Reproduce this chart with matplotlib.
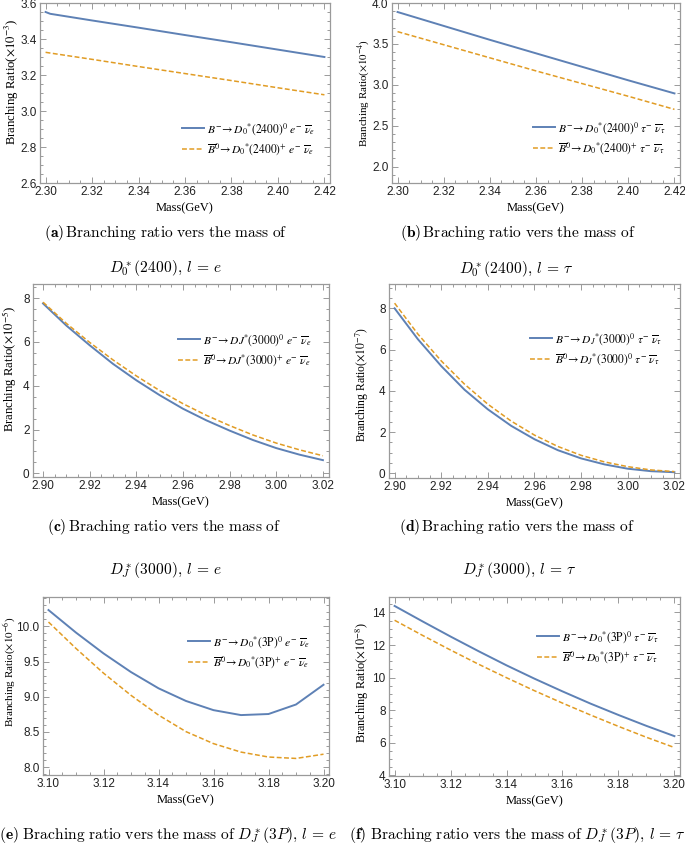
import matplotlib
matplotlib.use("Agg")
import matplotlib.pyplot as plt
from matplotlib.ticker import MultipleLocator, FormatStrFormatter
from matplotlib.font_manager import FontProperties

# ---- data ----
MASS_A = [2.300, 2.302, 2.32, 2.34, 2.36, 2.38, 2.40, 2.42]
BR_A_CHARGED = [3.55, 3.54, 3.503, 3.463, 3.422, 3.382, 3.341, 3.30]
BR_A_NEUTRAL = [3.326, 3.322, 3.287, 3.247, 3.208, 3.169, 3.129, 3.09]

MASS_B = [2.30, 2.32, 2.34, 2.36, 2.38, 2.40, 2.42]
BR_B_CHARGED = [3.89, 3.72, 3.55, 3.385, 3.22, 3.055, 2.895]
BR_B_NEUTRAL = [3.65, 3.49, 3.33, 3.17, 3.015, 2.86, 2.70]

MASS_C = [2.90, 2.91, 2.92, 2.93, 2.94, 2.95, 2.96, 2.97, 2.98, 2.99, 3.00, 3.01, 3.02]
BR_C_CHARGED = [7.76, 6.75, 5.85, 5.00, 4.25, 3.57, 2.95, 2.42, 1.95, 1.52, 1.15, 0.85, 0.60]
BR_C_NEUTRAL = [7.82, 6.85, 5.98, 5.18, 4.45, 3.78, 3.18, 2.65, 2.18, 1.75, 1.38, 1.07, 0.80]

MASS_D = MASS_C
BR_D_CHARGED = [8.00, 6.50, 5.20, 4.05, 3.10, 2.30, 1.65, 1.12, 0.72, 0.43, 0.22, 0.10, 0.05]
BR_D_NEUTRAL = [8.25, 6.75, 5.45, 4.32, 3.35, 2.53, 1.85, 1.30, 0.87, 0.55, 0.32, 0.16, 0.08]

MASS_E = [3.10, 3.11, 3.12, 3.13, 3.14, 3.15, 3.16, 3.17, 3.18, 3.19, 3.20]
BR_E_CHARGED = [10.23, 9.91, 9.615, 9.35, 9.12, 8.94, 8.81, 8.74, 8.755, 8.89, 9.17]
BR_E_NEUTRAL = [10.06, 9.685, 9.335, 9.02, 8.74, 8.505, 8.335, 8.215, 8.145, 8.125, 8.185]

MASS_F = MASS_E
BR_F_CHARGED = [14.40, 13.45, 12.52, 11.62, 10.75, 9.93, 9.15, 8.40, 7.70, 7.03, 6.40]
BR_F_NEUTRAL = [13.52, 12.59, 11.69, 10.82, 9.99, 9.19, 8.43, 7.70, 7.00, 6.33, 5.70]

LEG_A = [r"$B^{-}\!\rightarrow D_0{}^{*}(2400)^0\ e^{-}\ \overline{\nu}_e$",
         r"$\overline{B}^0\!\rightarrow D_0{}^{*}(2400)^{+}\ e^{-}\ \overline{\nu}_e$"]
LEG_B = [r"$B^{-}\!\rightarrow D_0{}^{*}(2400)^0\ \tau^{-}\ \overline{\nu}_\tau$",
         r"$\overline{B}^0\!\rightarrow D_0{}^{*}(2400)^{+}\ \tau^{-}\ \overline{\nu}_\tau$"]
LEG_C = [r"$B^{-}\!\rightarrow DJ{}^{*}(3000)^0\ e^{-}\ \overline{\nu}_e$",
         r"$\overline{B}^0\!\rightarrow DJ{}^{*}(3000)^{+}\ e^{-}\ \overline{\nu}_e$"]
LEG_D = [r"$B^{-}\!\rightarrow D_J{}^{*}(3000)^0\ \tau^{-}\ \overline{\nu}_\tau$",
         r"$\overline{B}^0\!\rightarrow D_J{}^{*}(3000)^0\ \tau^{-}\ \overline{\nu}_\tau$"]
LEG_E = [r"$B^{-}\!\rightarrow D_0{}^{*}(3\mathrm{P})^0\ e^{-}\ \overline{\nu}_e$",
         r"$\overline{B}^0\!\rightarrow D_0{}^{*}(3\mathrm{P})^{+}\ e^{-}\ \overline{\nu}_e$"]
LEG_F = [r"$B^{-}\!\rightarrow D_0{}^{*}(3\mathrm{P})^0\ \tau^{-}\ \overline{\nu}_\tau$",
         r"$\overline{B}^0\!\rightarrow D_0{}^{*}(3\mathrm{P})^{+}\ \tau^{-}\ \overline{\nu}_\tau$"]

BLUE = "#5e81b5"
ORANGE = "#e19c24"
FRAME = "#9a9a9a"

W, H = 685, 844
fig = plt.figure(figsize=(W / 100, H / 100), dpi=100)


def px_axes(left, top, right, bottom):
    return fig.add_axes([left / W, 1 - bottom / H, (right - left) / W, (bottom - top) / H])


def style(ax, xlim, ylim, xmaj, ymaj, ymin, yfmt, exp, ylab_size, ylab_xy):
    ax.set_xlim(*xlim)
    ax.set_ylim(*ylim)
    ax.xaxis.set_major_locator(MultipleLocator(xmaj))
    ax.xaxis.set_minor_locator(MultipleLocator(0.005))
    ax.yaxis.set_major_locator(MultipleLocator(ymaj))
    ax.yaxis.set_minor_locator(MultipleLocator(ymin))
    ax.xaxis.set_major_formatter(FormatStrFormatter("%.2f"))
    ax.yaxis.set_major_formatter(FormatStrFormatter(yfmt))
    ax.tick_params(which="both", direction="in", top=True, right=True,
                   color=FRAME, width=0.7, labelcolor="#222222", labelsize=8.5, pad=2.5)
    ax.tick_params(which="major", length=4)
    ax.tick_params(which="minor", length=2)
    for sp in ax.spines.values():
        sp.set_color(FRAME)
        sp.set_linewidth(0.9)
    for lbl in ax.get_xticklabels() + ax.get_yticklabels():
        lbl.set_fontfamily("Liberation Sans")
    ax.set_xlabel("Mass(GeV)", family="Liberation Serif", fontsize=9, labelpad=3)
    ax.set_ylabel(r"Branching Ratio($\times 10^{-%d}$)" % exp, family="Liberation Serif",
                  fontsize=ylab_size, math_fontfamily="stix")
    ax.yaxis.set_label_coords(*ylab_xy)


def draw(ax, mass, charged, neutral, labels, anchor):
    ax.plot(mass, charged, color=BLUE, lw=1.4)
    ax.plot(mass, neutral, color=ORANGE, lw=1.1, ls=(0, (3.2, 1.6)))
    ax.legend(labels, loc="center left", bbox_to_anchor=(anchor[0] / W, 1 - anchor[1] / H),
              bbox_transform=fig.transFigure, frameon=False, borderpad=0, borderaxespad=0,
              handlelength=1.9, handletextpad=0.3, labelspacing=0.4,
              prop=FontProperties(family="Liberation Serif", size=8.3, math_fontfamily="stix"))


def caption(x, y, text, size=11.2):
    fig.text(x / W, 1 - y / H, text, ha="center", va="center", fontsize=size,
             math_fontfamily="cm")


# (a)
ax = px_axes(40, 3, 330, 183)
draw(ax, MASS_A, BR_A_CHARGED, BR_A_NEUTRAL, LEG_A, (182, 139))
style(ax, (2.2976, 2.4224), (2.6, 3.6), 0.02, 0.2, 0.05, "%.1f", 3, 9.2, (-0.066, 0.56))

# (b)
ax = px_axes(392, 3, 680, 183)
draw(ax, MASS_B, BR_B_CHARGED, BR_B_NEUTRAL, LEG_B, (533, 138))
style(ax, (2.2976, 2.4224), (1.8, 4.0), 0.02, 0.5, 0.1, "%.1f", 4, 7.8, (-0.07, 0.5))

# (c)
ax = px_axes(33, 284, 329, 477)
draw(ax, MASS_C, BR_C_CHARGED, BR_C_NEUTRAL, LEG_C, (178, 350))
style(ax, (2.8957, 3.0226), (-0.17, 8.65), 0.02, 2, 0.5, "%d", 5, 9.2, (-0.047, 0.56))

# (d)
ax = px_axes(389, 284, 680, 478)
draw(ax, MASS_D, BR_D_CHARGED, BR_D_NEUTRAL, LEG_D, (530, 349))
style(ax, (2.8976, 3.0224), (-0.23, 9.18), 0.02, 2, 0.5, "%d", 7, 8.4, (-0.062, 0.48))

# (e)
ax = px_axes(43, 597, 329, 775)
draw(ax, MASS_E, BR_E_CHARGED, BR_E_NEUTRAL, LEG_E, (188, 652))
style(ax, (3.098, 3.202), (7.89, 10.415), 0.02, 0.5, 0.1, "%.1f", 6, 8.0, (-0.086, 0.58))

# (f)
ax = px_axes(389, 597, 680, 776)
draw(ax, MASS_F, BR_F_CHARGED, BR_F_NEUTRAL, LEG_F, (537, 647))
style(ax, (3.098, 3.202), (3.95, 14.95), 0.02, 2, 0.5, "%d", 8, 8.8, (-0.062, 0.52))

# captions
caption(166, 233, r"$\mathbf{(a)}\,\mathrm{Branching\ ratio\ vers\ the\ mass\ of}$")
caption(165, 268, r"$D_0^*(2400),\, l\, =\, e$")
caption(518, 233, r"$\mathbf{(b)}\,\mathrm{Braching\ ratio\ vers\ the\ mass\ of}$")
caption(516, 269, r"$D_0^*(2400),\, l\, =\, \tau$")
caption(164, 527, r"$\mathbf{(c)}\,\mathrm{Braching\ ratio\ vers\ the\ mass\ of}$")
caption(165, 570, r"$D_J^*(3000),\, l\, =\, e$")
caption(517, 527, r"$\mathbf{(d)}\,\mathrm{Braching\ ratio\ vers\ the\ mass\ of}$")
caption(519, 570, r"$D_J^*(3000),\, l\, =\, \tau$")
caption(168, 835, r"$\mathbf{(e)}\ \mathrm{Braching\ ratio\ vers\ the\ mass\ of}\ D_J^*(3P),\, l\, =\, e$")
caption(517, 835, r"$\mathbf{(f)}\ \mathrm{Braching\ ratio\ vers\ the\ mass\ of}\ D_J^*(3P),\, l\, =\, \tau$")

fig.savefig("out.png", dpi=100, facecolor="white")
